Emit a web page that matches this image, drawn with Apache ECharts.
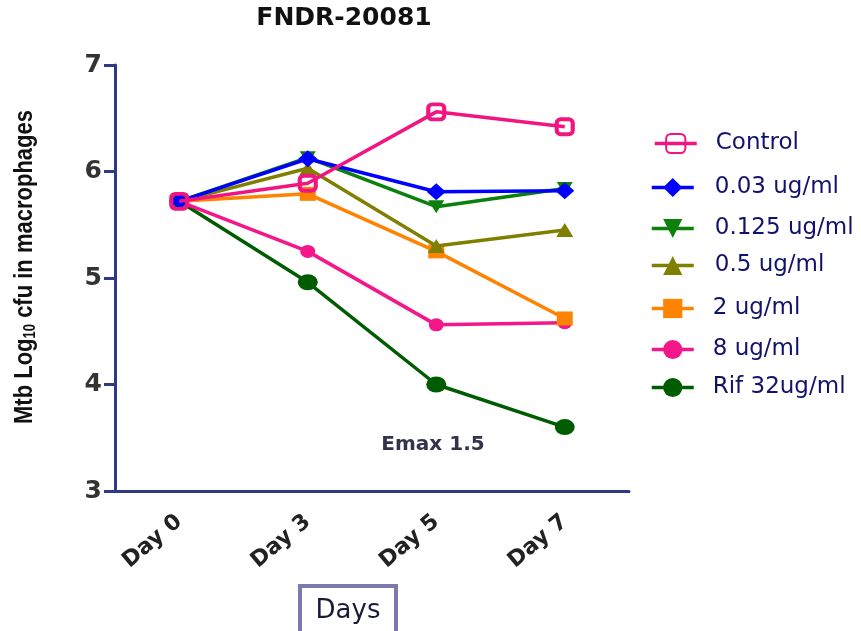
<!DOCTYPE html>
<html>
<head>
<meta charset="utf-8">
<script src="https://cdn.jsdelivr.net/npm/echarts@6/dist/echarts.min.js"></script>
<style>html,body{margin:0;padding:0;background:#fff}#c{width:861px;height:631px}</style>
</head>
<body>
<div id="c"></div>
<script>
var categories = ['Day 0', 'Day 3', 'Day 5', 'Day 7'];
var seriesNames = ['Control', '0.03 ug/ml', '0.125 ug/ml', '0.5 ug/ml', '2 ug/ml', '8 ug/ml', 'Rif 32ug/ml'];
var control = [5.72, 5.89, 6.56, 6.42];
var c003 = [5.72, 6.12, 5.81, 5.82];
var c0125 = [5.72, 6.13, 5.67, 5.84];
var c05 = [5.72, 6.03, 5.30, 5.45];
var c2 = [5.72, 5.79, 5.25, 4.62];
var c8 = [5.72, 5.25, 4.56, 4.58];
var rif = [5.72, 4.96, 4.00, 3.60];
var yTicks = [3, 4, 5, 6, 7];

var AX = '#2f3a86';
var FONT = 'DejaVu Sans';

function mk(name, data, color, symbol, size, z, hollow) {
  return {
    name: name, type: 'line', data: data, z: z,
    symbol: symbol, symbolSize: size,
    lineStyle: { color: color, width: 3.5 },
    itemStyle: hollow ? { color: 'rgba(255,255,255,0)', borderColor: color, borderWidth: 4 } : { color: color },
    emphasis: { disabled: true }
  };
}

var series = [
  mk(seriesNames[6], rif, '#005c00', 'circle', [20, 16], 2),
  mk(seriesNames[5], c8, '#f5168a', 'circle', [15, 13], 3),
  mk(seriesNames[4], c2, '#ff8200', 'rect', [16, 14], 4),
  mk(seriesNames[3], c05, '#808000', 'triangle', [17, 14], 5),
  mk(seriesNames[2], c0125, '#0b800b', 'path://M0,0 L10,0 L5,10 Z', [16, 13], 6),
  mk(seriesNames[1], c003, '#0000ff', 'diamond', [19, 17], 7),
  mk(seriesNames[0], control, '#f01580', 'roundRect', [16, 15], 8, true)
];

var legendPos = [
  [653, 144, 14], [650, 188, 16], [650, 229, 16], [650, 266, 16],
  [650, 309, 14], [650, 350, 14], [650, 388, 14]
];
var legends = seriesNames.map(function (n, i) {
  var p = legendPos[i];
  return {
    data: [n], left: p[0], top: p[1] - 12, padding: 0,
    itemWidth: 42, itemHeight: 24, selectedMode: false,
    lineStyle: { width: 3.5 },
    formatter: function (name) { return '{t|' + name + '}'; },
    textStyle: {
      rich: { t: { fontFamily: FONT, fontSize: 23, color: '#12126c', lineHeight: 24, padding: [0, 0, 0, p[2]] } }
    }
  };
});

var chart = echarts.init(document.getElementById('c'), null, { renderer: 'canvas' });
chart.setOption({
  animation: false,
  backgroundColor: '#fff',
  legend: legends,
  grid: { left: 115, right: 232, top: 65, bottom: 140, containLabel: false },
  xAxis: {
    type: 'category', data: categories, boundaryGap: true,
    axisLine: { lineStyle: { color: AX, width: 3 } },
    axisTick: { alignWithLabel: true, length: 8, lineStyle: { color: AX, width: 3 } },
    axisLabel: { rotate: 40, margin: 28, fontFamily: FONT, fontWeight: 'bold', fontSize: 22, color: '#222' }
  },
  yAxis: {
    type: 'value', min: yTicks[0], max: yTicks[yTicks.length - 1], interval: 1,
    splitLine: { show: false },
    axisLine: { show: true, lineStyle: { color: AX, width: 3 } },
    axisTick: { show: true, length: 11, lineStyle: { color: AX, width: 3 } },
    axisLabel: { margin: 13, fontFamily: FONT, fontWeight: 'bold', fontSize: 25, color: '#333' }
  },
  series: series,
  graphic: [
    { type: 'text', x: 344, y: 18, style: { text: 'FNDR-20081', font: 'bold 25px "DejaVu Sans"', fill: '#111', align: 'center', verticalAlign: 'middle' } },
    { type: 'text', x: 433, y: 445, style: { text: 'Emax 1.5', font: 'bold 20px "DejaVu Sans"', fill: '#33334a', align: 'center', verticalAlign: 'middle' } },
    { type: 'text', x: 25, y: 267, rotation: Math.PI / 2, scaleY: 1.2,
      style: { text: 'Mtb Log{s|10} cfu in macrophages', font: 'bold 22px "Liberation Sans"', fill: '#111', align: 'center', verticalAlign: 'middle',
        rich: { s: { font: 'bold 13px "Liberation Sans"', fill: '#111', verticalAlign: 'bottom', padding: [8, 0, 0, 0] } } } },
    { type: 'rect', shape: { x: 300, y: 586, width: 96, height: 60 }, style: { fill: '#fff', stroke: '#7b7bab', lineWidth: 4 } },
    { type: 'text', x: 348, y: 611, style: { text: 'Days', font: '26px "DejaVu Sans"', fill: '#1a1a3a', align: 'center', verticalAlign: 'middle' } }
  ]
});
</script>
</body>
</html>
